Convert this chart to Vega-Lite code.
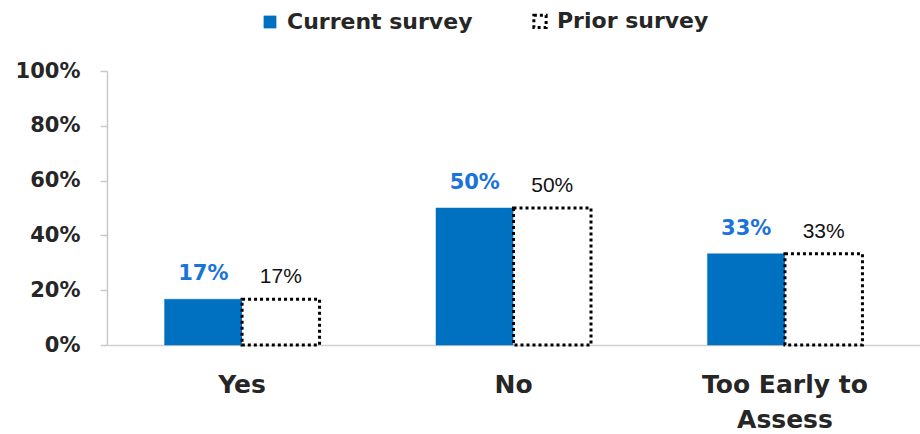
{
  "$schema": "https://vega.github.io/schema/vega-lite/v6.json",
  "width": 813,
  "height": 274,
  "autosize": {"type": "none"},
  "padding": {"left": 107, "top": 71, "right": 0, "bottom": 89},
  "background": "white",
  "config": {
    "view": {"stroke": null},
    "font": "DejaVu Sans"
  },
  "data": {
    "values": [
      {"answer": "Yes", "series": "Current survey", "value": 0.167, "label": "17%"},
      {"answer": "Yes", "series": "Prior survey", "value": 0.167, "label": "17%"},
      {"answer": "No", "series": "Current survey", "value": 0.5, "label": "50%"},
      {"answer": "No", "series": "Prior survey", "value": 0.5, "label": "50%"},
      {"answer": "Too Early to Assess", "series": "Current survey", "value": 0.333, "label": "33%"},
      {"answer": "Too Early to Assess", "series": "Prior survey", "value": 0.333, "label": "33%"}
    ]
  },
  "encoding": {
    "x": {
      "field": "answer", "type": "nominal", "sort": null, "title": null,
      "scale": {"paddingInner": 0.429, "paddingOuter": 0.212},
      "axis": {
        "labelAngle": 0, "ticks": false, "domainColor": "#d0d0d0", "domainWidth": 1.5,
        "labelFont": "DejaVu Sans", "labelFontWeight": "bold", "labelFontSize": 25,
        "labelColor": "#262626", "labelPadding": 39, "labelLineHeight": 35,
        "labelBaseline": "middle", "labelLimit": 400,
        "labelExpr": "datum.label == 'Too Early to Assess' ? ['Too Early to', 'Assess'] : datum.label"
      }
    },
    "xOffset": {"field": "series", "type": "nominal", "sort": ["Current survey", "Prior survey"], "scale": {"padding": 0}},
    "y": {
      "field": "value", "type": "quantitative", "title": null,
      "scale": {"domain": [0, 1]},
      "axis": {
        "format": "%", "values": [0, 0.2, 0.4, 0.6, 0.8, 1], "labelOverlap": false,
        "grid": false, "domainColor": "#c8c8c8", "domainWidth": 1.5,
        "tickColor": "#c8c8c8", "tickSize": 7, "tickWidth": 1.5,
        "labelFont": "DejaVu Sans", "labelFontWeight": "bold", "labelFontSize": 21,
        "labelColor": "#262626", "labelPadding": 20
      }
    }
  },
  "layer": [
    {
      "mark": {"type": "bar"},
      "encoding": {
        "fill": {
          "field": "series", "type": "nominal",
          "scale": {"domain": ["Current survey", "Prior survey"], "range": ["#0070C0", "#ffffff"]},
          "legend": {
            "title": null, "orient": "none", "direction": "horizontal",
            "legendX": 152, "legendY": -61,
            "labelFont": "DejaVu Sans", "labelFontWeight": "bold", "labelFontSize": 22,
            "labelColor": "#262626", "symbolType": "square", "symbolSize": 150,
            "columnPadding": 54, "labelOffset": 6, "labelLimit": 400
          }
        },
        "stroke": {
          "field": "series", "type": "nominal",
          "scale": {"domain": ["Current survey", "Prior survey"], "range": ["#0070C0", "#000000"]}
        },
        "strokeDash": {
          "field": "series", "type": "nominal",
          "scale": {"domain": ["Current survey", "Prior survey"], "range": [[1, 0], [3, 3]]}
        },
        "strokeWidth": {
          "field": "series", "type": "nominal",
          "scale": {"domain": ["Current survey", "Prior survey"], "range": [0.5, 3]},
          "legend": null
        }
      }
    },
    {
      "transform": [{"filter": "datum.series == 'Current survey'"}],
      "mark": {"type": "text", "dy": -19, "baseline": "alphabetic", "font": "DejaVu Sans", "fontSize": 21, "fontWeight": "bold", "color": "#1a73d9"},
      "encoding": {"text": {"field": "label"}}
    },
    {
      "transform": [{"filter": "datum.series == 'Prior survey'"}],
      "mark": {"type": "text", "dy": -16, "baseline": "alphabetic", "font": "Liberation Sans", "fontSize": 21, "color": "#111111"},
      "encoding": {"text": {"field": "label"}}
    }
  ]
}
